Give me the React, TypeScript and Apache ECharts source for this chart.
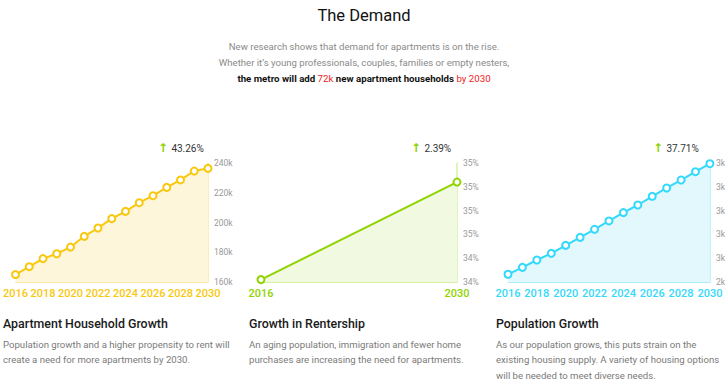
import React, { useEffect, useRef } from "react";
import * as echarts from "echarts";

const years = ["2016","2017","2018","2019","2020","2021","2022","2023","2024","2025","2026","2027","2028","2029","2030"];
const householdValues = [165.0,170.3,175.7,179.0,183.5,190.7,196.3,202.6,207.5,213.3,218.0,223.6,228.6,234.6,236.4];
const rentershipYears = ["2016","2030"];
const rentershipValues = [34.22,35.04];
const populationValues = [2465,2523,2585,2641,2708,2775,2843,2913,2983,3047,3120,3190,3257,3327,3394];
const growthLabels = ["43.26%","2.39%","37.71%"];
const headings = ["Apartment Household Growth","Growth in Rentership","Population Growth"];
const descriptions = [
  ["Population growth and a higher propensity to rent will","create a need for more apartments by 2030."],
  ["An aging population, immigration and fewer home","purchases are increasing the need for apartments."],
  ["As our population grows, this puts strain on the","existing housing supply. A variety of housing options","will be needed to meet diverse needs."],
];

const FONT = "Roboto, sans-serif";
const colors = [
  { line: "#f9c80e", area: "#fdf6da", axis: "#f9e9a6" },
  { line: "#8fd400", area: "#f1f9e1", axis: "#d6f0a8" },
  { line: "#33d9fa", area: "#e2f8fd", axis: "#aeeefb" },
];
const grids = [
  { left: 14, top: 163, width: 194, height: 119 },
  { left: 261, top: 163, width: 196, height: 119 },
  { left: 508, top: 163, width: 203, height: 119 },
];
const colX = [3, 249, 496];
const arrowX = [158, 411, 653];

export default function App() {
  const ref = useRef<HTMLDivElement>(null);
  useEffect(() => {
    document.body.style.margin = "0";
    const chart = echarts.init(ref.current!, null, { renderer: "svg" });
    const xData = [years, rentershipYears, years];
    const yCfg = [
      { min: 160, max: 240, interval: 20, fmt: (v: number) => v.toFixed(0) + "k" },
      { min: 34.2, max: 35.2, interval: 0.2, fmt: (v: number) => v.toFixed(0) + "%" },
      { min: 2400, max: 3400, interval: 200, fmt: (v: number) => (v / 1000).toFixed(0) + "k" },
    ];
    const seriesData = [householdValues, rentershipValues, populationValues];
    const graphic: any[] = [
      { type: "text", left: "center", top: 7, style: { text: "The Demand", font: `400 16.5px ${FONT}`, fill: "#111" } },
      { type: "text", left: "center", top: 41, style: { text: "New research shows that demand for apartments is on the rise.", font: `400 9.6px ${FONT}`, fill: "#8a8a8a" } },
      { type: "text", left: "center", top: 57, style: { text: "Whether it\u2019s young professionals, couples, families or empty nesters,", font: `400 9.6px ${FONT}`, fill: "#8a8a8a" } },
      {
        type: "text", left: "center", top: 73,
        style: {
          text: "{b|the metro will add }{r|72k}{b| new apartment households }{r|by 2030}",
          rich: {
            b: { font: `700 9.7px ${FONT}`, fill: "#111" },
            r: { font: `400 9.7px ${FONT}`, fill: "#f01c1c" },
          },
        },
      },
    ];
    for (let i = 0; i < 3; i++) {
      graphic.push({
        type: "text", x: arrowX[i], y: 142,
        style: {
          text: "{a|\u2191} {t|" + growthLabels[i] + "}",
          rich: {
            a: { font: `700 12px "DejaVu Sans", sans-serif`, fill: "#8cd400" },
            t: { font: `400 10px ${FONT}`, fill: "#333" },
          },
        },
      });
      graphic.push({ type: "text", x: colX[i], y: 317, style: { text: headings[i], font: `500 12.4px ${FONT}`, fill: "#1a1a1a" } });
      descriptions[i].forEach((line, j) => {
        graphic.push({ type: "text", x: colX[i], y: 339 + j * 15.5, style: { text: line, font: `400 9.6px ${FONT}`, fill: "#7a7a7a" } });
      });
    }
    chart.setOption({
      animation: false,
      backgroundColor: "#fff",
      grid: grids.map((g) => ({ ...g, containLabel: false })),
      xAxis: xData.map((d, i) => ({
        type: "category",
        gridIndex: i,
        data: d,
        boundaryGap: false,
        axisLine: { show: true, lineStyle: { color: colors[i].axis, width: 1 } },
        axisTick: { show: false },
        splitLine: { show: false },
        axisLabel: { interval: i === 1 ? 0 : 1, color: colors[i].line, fontFamily: FONT, fontWeight: 500, fontSize: 11, margin: 6 },
      })),
      yAxis: yCfg.map((c, i) => ({
        type: "value",
        gridIndex: i,
        position: "right",
        min: c.min,
        max: c.max,
        interval: c.interval,
        axisLine: { show: true, lineStyle: { color: colors[i].axis, width: 1.5 } },
        axisTick: { show: false },
        splitLine: { show: false },
        axisLabel: { color: "#999", fontFamily: FONT, fontSize: 8.5, margin: 6, formatter: c.fmt },
      })),
      series: seriesData.map((d, i) => ({
        type: "line",
        xAxisIndex: i,
        yAxisIndex: i,
        data: d,
        symbol: "circle",
        symbolSize: 7,
        showSymbol: true,
        lineStyle: { color: colors[i].line, width: 2 },
        itemStyle: { color: "#fff", borderColor: colors[i].line, borderWidth: 2 },
        areaStyle: { color: colors[i].area, opacity: 1 },
      })),
      graphic,
    });
    return () => chart.dispose();
  }, []);
  return <div ref={ref} style={{ width: 728, height: 386 }} />;
}
